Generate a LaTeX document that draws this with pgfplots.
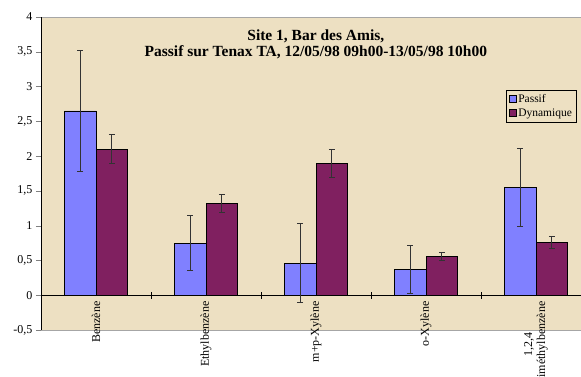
\documentclass[border=0pt]{standalone}
\usepackage{fontspec}
\setmainfont{Liberation Serif}
\usepackage{pgfplots}
\usepackage{pgfplotstable}
\pgfplotsset{compat=1.18}

\definecolor{parch}{RGB}{237,224,194}
\definecolor{passifc}{RGB}{128,128,255}
\definecolor{dync}{RGB}{128,32,96}

% cat  passif  err  dynamique  err
\pgfplotstableread{
x  p     pe    d      de
0  2.65  0.87  2.10   0.21
1  0.75  0.40  1.32   0.13
2  0.46  0.57  1.90   0.20
3  0.37  0.35  0.555  0.055
4  1.55  0.56  0.76   0.08
}\benz

\begin{document}
\begin{tikzpicture}
\useasboundingbox (-41pt,-46pt) rectangle (540pt,330pt);
\begin{axis}[
    scale only axis,
    width=540pt, height=313pt,
    at={(0pt,0pt)}, anchor=south west,
    xmin=-0.5, xmax=4.409,
    ymin=-0.5, ymax=4,
    axis x line*=middle,
    axis y line*=left,
    hide obscured x ticks=false,
    hide obscured y ticks=false,
    axis background/.style={fill=parch, draw=gray!70},
    ybar=0pt, bar width=31.5pt,
    ytick={-0.5,0,...,4},
    yticklabel style={font=\fontsize{12}{14}\selectfont,
                      /pgf/number format/.cd, fixed, use comma, assume math mode=true},
    tick align=outside,
    major tick length=5pt,
    xtick={0,1,2,3,4},
    xticklabels={Benzène, Ethylbenzène, m+p-Xylène, o-Xylène, {1,2,4\\Triméthylbenzène}},
    xticklabel style={rotate=90, anchor=east, align=center, inner sep=1pt,
                      font=\fontsize{12}{13}\selectfont},
    major x tick style={draw=none},
    minor xtick={0.5,1.5,2.5,3.5},
    minor tick length=6.6pt,
    minor x tick style={yshift=3.3pt, black},
    title={Site 1, Bar des Amis,\\Passif sur Tenax TA, 12/05/98 09h00-13/05/98 10h00},
    title style={at={(0.509,1)}, anchor=north, yshift=-15pt, align=center,
                 font=\bfseries\fontsize{15.5}{16.5}\selectfont},
    legend style={at={(0.862,0.767)}, anchor=north west, draw=black, fill=none,
                  font=\fontsize{11.5}{13}\selectfont, row sep=1pt,
                  inner xsep=2pt, inner ysep=2pt},
    legend cell align=left,
    legend image code/.code={\draw[#1, draw=black, line width=0.6pt] (0pt,-3.5pt) rectangle (7pt,3.5pt);},
    error bars/error bar style={line width=0.8pt, black!80},
    error bars/error mark options={rotate=90, mark size=2.9pt, line width=0.8pt},
]
\addplot[fill=passifc, draw=black, line width=0.8pt,
         error bars/.cd, y dir=both, y explicit]
    table[x=x, y=p, y error=pe] {\benz};
\addplot[fill=dync, draw=black, line width=0.8pt,
         error bars/.cd, y dir=both, y explicit]
    table[x=x, y=d, y error=de] {\benz};
\legend{Passif, Dynamique}
\end{axis}
\end{tikzpicture}
\end{document}
